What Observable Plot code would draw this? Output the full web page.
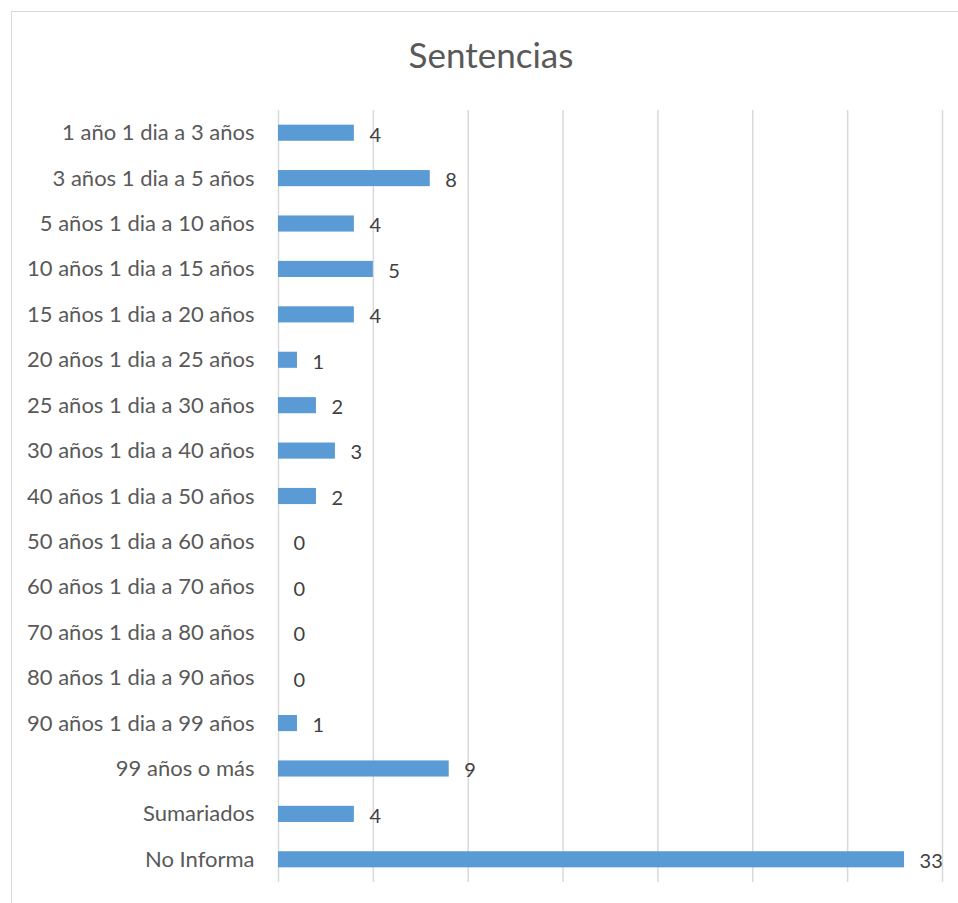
<!DOCTYPE html>
<html>
<head>
<meta charset="utf-8">
<script src="https://cdn.jsdelivr.net/npm/d3@7"></script>
<script src="https://cdn.jsdelivr.net/npm/@observablehq/plot@0.6"></script>
<style>
  html, body { margin: 0; padding: 0; background: #fff; overflow: hidden; }
  #frame { position: absolute; left: 11px; top: 11px; width: 1000px; height: 1000px; border: 1.5px solid #d9d9d9; box-sizing: border-box; }
  #title { position: absolute; left: 12px; width: 958px; top: 37px; line-height: 35px; text-align: center; font-family: Lato, "Open Sans", sans-serif; font-size: 35px; color: #595959; }
  #chart { position: absolute; left: 0; top: 0; }
</style>
</head>
<body>
<div id="frame"></div>
<div id="title">Sentencias</div>
<div id="chart"></div>
<script>
const categories = [
  "1 año 1 dia a 3 años",
  "3 años 1 dia a 5 años",
  "5 años 1 dia a 10 años",
  "10 años 1 dia a 15 años",
  "15 años 1 dia a 20 años",
  "20 años 1 dia a 25 años",
  "25 años 1 dia a 30 años",
  "30 años 1 dia a 40 años",
  "40 años 1 dia a 50 años",
  "50 años 1 dia a 60 años",
  "60 años 1 dia a 70 años",
  "70 años 1 dia a 80 años",
  "80 años 1 dia a 90 años",
  "90 años 1 dia a 99 años",
  "99 años o más",
  "Sumariados",
  "No Informa"
];
const values = [4, 8, 4, 5, 4, 1, 2, 3, 2, 0, 0, 0, 0, 1, 9, 4, 33];
const gridTicks = [0, 5, 10, 15, 20, 25, 30, 35];

const data = categories.map((c, i) => ({ category: c, value: values[i] }));

const chart = Plot.plot({
  width: 958,
  height: 903,
  marginLeft: 278,
  marginRight: 16,
  marginTop: 110,
  marginBottom: 21,
  style: { fontFamily: "Lato, 'Open Sans', sans-serif", fontSize: "22px", color: "#595959", background: "transparent" },
  x: { domain: [0, 35], axis: null },
  y: { domain: categories, paddingInner: 0.645, paddingOuter: 0.3225, align: 0.5, round: false, label: null, axis: null },
  marks: [
    Plot.ruleX(gridTicks, { stroke: "#d9d9d9", strokeWidth: 1.5 }),
    Plot.barX(data, { x: "value", y: "category", fill: "#5b9bd5" }),
    Plot.text(data, { x: "value", y: "category", text: d => String(d.value), textAnchor: "start", dx: 15, dy: 2, fill: "#404040", fontSize: 20 }),
    Plot.axisY({ tickSize: 0, tickPadding: 24, label: null, fontSize: 22, fill: "#595959" })
  ]
});
document.getElementById("chart").appendChild(chart);
</script>
</body>
</html>
